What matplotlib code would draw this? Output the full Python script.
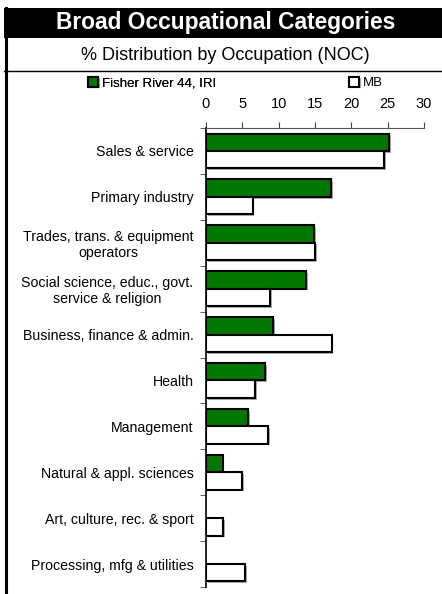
import numpy as np
import matplotlib
matplotlib.use('Agg')
import matplotlib.pyplot as plt
import matplotlib.patheffects as pe
from matplotlib.patches import Rectangle
from matplotlib.lines import Line2D

plt.rcParams['font.family'] = ['Liberation Sans', 'DejaVu Sans']

cats = ['Sales & service', 'Primary industry', 'Trades, trans. & equipment\noperators',
        'Social science, educ., govt.\nservice & religion', 'Business, finance & admin.',
        'Health', 'Management', 'Natural & appl. sciences',
        'Art, culture, rec. & sport', 'Processing, mfg & utilities']
fisher = [25.2, 17.2, 14.9, 13.8, 9.2, 8.1, 5.8, 2.3, 0, 0]
mb = [24.5, 6.4, 15.0, 8.8, 17.3, 6.8, 8.6, 5.0, 2.4, 5.4]
xticks = [0, 5, 10, 15, 20, 25, 30]

fig = plt.figure(figsize=(4.42, 5.94), dpi=100)
W, H = 442, 594

# frame: title band, left border, subtitle rule
fig.patches.append(Rectangle((4/W, 1-38/H), 1, 30/H, transform=fig.transFigure,
                             facecolor='black', edgecolor='none'))
fig.lines.append(Line2D([5.5/W, 5.5/W], [0, 1-8/H], transform=fig.transFigure,
                        color='black', lw=2.2))
fig.lines.append(Line2D([4/W, 1], [1-71/H, 1-71/H], transform=fig.transFigure,
                        color='black', lw=1))
fig.text(226/W, 1-23/H, 'Broad Occupational Categories', color='white',
         fontsize=16.4, fontweight='bold', ha='center', va='center')
fig.text(225/W, 1-55/H, '% Distribution by Occupation (NOC)', color='black',
         fontsize=13, ha='center', va='center')

ax = fig.add_axes([206/W, 1-587/H, 218/W, 459/H])
y = np.arange(len(cats))
h = 0.38
shadow = [pe.SimplePatchShadow(offset=(1.2, -1.2), shadow_rgbFace='#999999', alpha=0.8), pe.Normal()]
b1 = ax.barh(y - h/2, fisher, height=h, color='#007800', edgecolor='black', lw=1.5,
             label='Fisher River 44, IRI')
b2 = ax.barh(y + h/2, mb, height=h, color='white', edgecolor='black', lw=1.5, label='MB')
for b in list(b1) + list(b2):
    b.set_path_effects(shadow)
    if b.get_width() == 0:
        b.set_visible(False)

ax.set_xlim(0, 30)
ax.set_ylim(len(cats) - 0.5, -0.5)
ax.xaxis.tick_top()
ax.set_xticks(xticks)
ax.tick_params(axis='x', length=4, pad=8, labelsize=10.5, color='#444444')
ax.set_yticks(y)
ax.set_yticklabels(cats, fontsize=10.2, ha='right')
ax.tick_params(axis='y', which='major', length=0, pad=9)
ax.set_yticks(np.arange(-0.5, len(cats)), minor=True)
ax.tick_params(axis='y', which='minor', length=4, color='#444444')
for t in ax.get_yticklabels():
    t.set_multialignment('center')
for s in ['right', 'bottom']:
    ax.spines[s].set_visible(False)
ax.spines['top'].set_color('#555555')
ax.spines['left'].set_color('black')
ax.spines['left'].set_linewidth(1.2)

leg1 = fig.legend([b1], ['Fisher River 44, IRI'], loc='center left',
                  bbox_to_anchor=(81/W, 1-83/H), frameon=False, fontsize=9.5,
                  handlelength=0.8, handleheight=0.8, handletextpad=0.3, borderpad=0)
leg2 = fig.legend([b2], ['MB'], loc='center left',
                  bbox_to_anchor=(342/W, 1-83/H), frameon=False, fontsize=9.5,
                  handlelength=0.8, handleheight=0.8, handletextpad=0.3, borderpad=0)
fig.add_artist(leg1)

fig.savefig('out.png', dpi=100)
